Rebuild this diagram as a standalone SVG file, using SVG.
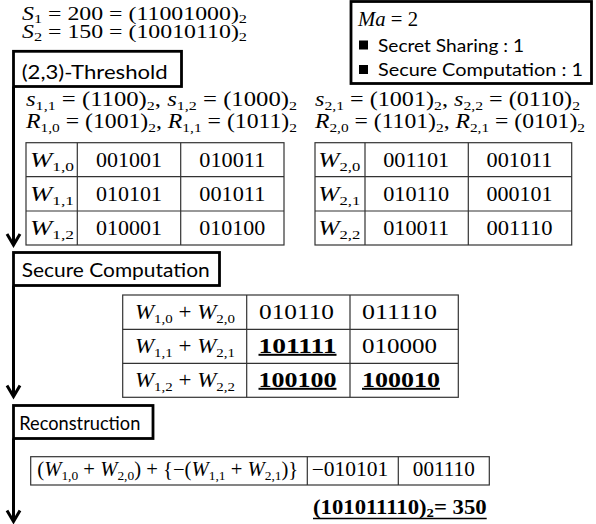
<svg xmlns="http://www.w3.org/2000/svg" width="596" height="524" viewBox="0 0 596 524">
  <style>
    .m { font-family: "Liberation Serif", "DejaVu Serif", serif; font-size: 20px; fill: #000; }
    .top { font-size: 19px; }
    .i { font-style: italic; }
    .sb { font-size: 13px; }
    .bd { font-weight: bold; }
    .b { font-weight: bold; text-decoration: underline; }
    .lbl { font-family: Lato, "Liberation Sans", sans-serif; font-size: 19.5px; fill: #000; }
    .sm { font-family: Lato, "Liberation Sans", sans-serif; font-size: 17px; fill: #000; }
    .box { fill: #fff; stroke: #000; stroke-width: 2.8; }
    .tbl { fill: #fff; stroke: #333; stroke-width: 1.2; }
    .grid { stroke: #333; stroke-width: 1.2; }
    .flow { stroke: #000; stroke-width: 3; fill: none; }
    .c { text-anchor: middle; }
  </style>
  <defs>
    <marker id="head" markerUnits="userSpaceOnUse" markerWidth="20" markerHeight="20" refX="0" refY="0" viewBox="-14 -10 16 20" orient="auto" overflow="visible">
      <path d="M-11,-6.5 L0,0 L-11,6.5" fill="none" stroke="#000" stroke-width="3"/>
    </marker>
  </defs>

  <!-- secrets -->
  <g id="secrets">
    <text class="m top" x="22" y="20" textLength="225" lengthAdjust="spacingAndGlyphs"><tspan class="i">S</tspan><tspan class="sb" dy="3">1</tspan><tspan dy="-3"> = 200 = (11001000)</tspan><tspan class="sb" dy="3">2</tspan></text>
    <text class="m top" x="22" y="37.5" textLength="225" lengthAdjust="spacingAndGlyphs"><tspan class="i">S</tspan><tspan class="sb" dy="3">2</tspan><tspan dy="-3"> = 150 = (10010110)</tspan><tspan class="sb" dy="3">2</tspan></text>
  </g>

  <!-- parameters -->
  <g id="params">
    <rect class="box" x="351" y="1.5" width="240.5" height="82"/>
    <text class="m" x="358" y="26" textLength="60" lengthAdjust="spacingAndGlyphs"><tspan class="i">Ma</tspan> = 2</text>
    <rect x="359" y="40.5" width="9" height="9" fill="#000"/>
    <text class="sm" x="378" y="52" textLength="146" lengthAdjust="spacingAndGlyphs">Secret Sharing : 1</text>
    <rect x="359" y="65" width="9" height="9" fill="#000"/>
    <text class="sm" x="378" y="75.5" textLength="205" lengthAdjust="spacingAndGlyphs">Secure Computation : 1</text>
  </g>

  <!-- step boxes -->
  <g id="threshold">
    <rect class="box" x="13.5" y="51.3" width="168" height="35.2"/>
    <text class="lbl" x="21.7" y="78.5" textLength="146" lengthAdjust="spacingAndGlyphs">(2,3)-Threshold</text>
  </g>
  <g id="secure-computation">
    <rect class="box" x="13.5" y="252.5" width="206" height="33"/>
    <text class="lbl" x="21.7" y="276.5" textLength="188" lengthAdjust="spacingAndGlyphs">Secure Computation</text>
  </g>
  <g id="reconstruction">
    <rect class="box" x="13.5" y="405.5" width="139.5" height="33"/>
    <text class="lbl" x="19.3" y="430" textLength="121" lengthAdjust="spacingAndGlyphs">Reconstruction</text>
  </g>

  <!-- shares of S1 -->
  <g id="shares-1">
    <text class="m" x="26" y="105.5" textLength="271" lengthAdjust="spacingAndGlyphs"><tspan class="i">s</tspan><tspan class="sb" dy="4">1,1</tspan><tspan dy="-4"> = (1100)</tspan><tspan class="sb" dy="4">2</tspan><tspan dy="-4">, </tspan><tspan class="i">s</tspan><tspan class="sb" dy="4">1,2</tspan><tspan dy="-4"> = (1000)</tspan><tspan class="sb" dy="4">2</tspan></text>
    <text class="m" x="26" y="128" textLength="271" lengthAdjust="spacingAndGlyphs"><tspan class="i">R</tspan><tspan class="sb" dy="4">1,0</tspan><tspan dy="-4"> = (1001)</tspan><tspan class="sb" dy="4">2</tspan><tspan dy="-4">, </tspan><tspan class="i">R</tspan><tspan class="sb" dy="4">1,1</tspan><tspan dy="-4"> = (1011)</tspan><tspan class="sb" dy="4">2</tspan></text>
    <rect class="tbl" x="26" y="142.7" width="258" height="102.3"/>
    <path class="grid" d="M77.3,142.7V245M180.7,142.7V245M26,176.7H284M26,211H284"/>
    <text class="m" x="30" y="166.5" textLength="44" lengthAdjust="spacingAndGlyphs"><tspan class="i">W</tspan><tspan class="sb" dy="4">1,0</tspan></text>
    <text class="m" x="30" y="200.5" textLength="44" lengthAdjust="spacingAndGlyphs"><tspan class="i">W</tspan><tspan class="sb" dy="4">1,1</tspan></text>
    <text class="m" x="30" y="234.5" textLength="44" lengthAdjust="spacingAndGlyphs"><tspan class="i">W</tspan><tspan class="sb" dy="4">1,2</tspan></text>
    <text class="m c" x="129" y="166.5" textLength="66" lengthAdjust="spacingAndGlyphs">001001</text>
    <text class="m c" x="232.3" y="166.5" textLength="66" lengthAdjust="spacingAndGlyphs">010011</text>
    <text class="m c" x="129" y="200.5" textLength="66" lengthAdjust="spacingAndGlyphs">010101</text>
    <text class="m c" x="232.3" y="200.5" textLength="66" lengthAdjust="spacingAndGlyphs">001011</text>
    <text class="m c" x="129" y="234.5" textLength="66" lengthAdjust="spacingAndGlyphs">010001</text>
    <text class="m c" x="232.3" y="234.5" textLength="66" lengthAdjust="spacingAndGlyphs">010100</text>
  </g>

  <!-- shares of S2 -->
  <g id="shares-2">
    <text class="m" x="315" y="105.5" textLength="265" lengthAdjust="spacingAndGlyphs"><tspan class="i">s</tspan><tspan class="sb" dy="4">2,1</tspan><tspan dy="-4"> = (1001)</tspan><tspan class="sb" dy="4">2</tspan><tspan dy="-4">, </tspan><tspan class="i">s</tspan><tspan class="sb" dy="4">2,2</tspan><tspan dy="-4"> = (0110)</tspan><tspan class="sb" dy="4">2</tspan></text>
    <text class="m" x="315" y="128" textLength="270" lengthAdjust="spacingAndGlyphs"><tspan class="i">R</tspan><tspan class="sb" dy="4">2,0</tspan><tspan dy="-4"> = (1101)</tspan><tspan class="sb" dy="4">2</tspan><tspan dy="-4">, </tspan><tspan class="i">R</tspan><tspan class="sb" dy="4">2,1</tspan><tspan dy="-4"> = (0101)</tspan><tspan class="sb" dy="4">2</tspan></text>
    <rect class="tbl" x="315" y="142.7" width="256.7" height="102.3"/>
    <path class="grid" d="M365,142.7V245M468.3,142.7V245M315,176.7H571.7M315,211H571.7"/>
    <text class="m" x="318.3" y="166.5" textLength="42" lengthAdjust="spacingAndGlyphs"><tspan class="i">W</tspan><tspan class="sb" dy="4">2,0</tspan></text>
    <text class="m" x="318.3" y="200.5" textLength="42" lengthAdjust="spacingAndGlyphs"><tspan class="i">W</tspan><tspan class="sb" dy="4">2,1</tspan></text>
    <text class="m" x="318.3" y="234.5" textLength="42" lengthAdjust="spacingAndGlyphs"><tspan class="i">W</tspan><tspan class="sb" dy="4">2,2</tspan></text>
    <text class="m c" x="416.2" y="166.5" textLength="66" lengthAdjust="spacingAndGlyphs">001101</text>
    <text class="m c" x="519.5" y="166.5" textLength="66" lengthAdjust="spacingAndGlyphs">001011</text>
    <text class="m c" x="416.2" y="200.5" textLength="66" lengthAdjust="spacingAndGlyphs">010110</text>
    <text class="m c" x="519.5" y="200.5" textLength="66" lengthAdjust="spacingAndGlyphs">000101</text>
    <text class="m c" x="416.2" y="234.5" textLength="66" lengthAdjust="spacingAndGlyphs">010011</text>
    <text class="m c" x="519.5" y="234.5" textLength="66" lengthAdjust="spacingAndGlyphs">001110</text>
  </g>

  <!-- summed shares -->
  <g id="sums">
    <rect class="tbl" x="122.7" y="295" width="335.6" height="102.3"/>
    <path class="grid" d="M246.7,295V397.3M350,295V397.3M122.7,329.3H458.3M122.7,363.3H458.3"/>
    <text class="m" x="135" y="318.7" textLength="100" lengthAdjust="spacingAndGlyphs"><tspan class="i">W</tspan><tspan class="sb" dy="4">1,0</tspan><tspan dy="-4"> + </tspan><tspan class="i">W</tspan><tspan class="sb" dy="4">2,0</tspan></text>
    <text class="m" x="135" y="352.8" textLength="100" lengthAdjust="spacingAndGlyphs"><tspan class="i">W</tspan><tspan class="sb" dy="4">1,1</tspan><tspan dy="-4"> + </tspan><tspan class="i">W</tspan><tspan class="sb" dy="4">2,1</tspan></text>
    <text class="m" x="135" y="386.8" textLength="100" lengthAdjust="spacingAndGlyphs"><tspan class="i">W</tspan><tspan class="sb" dy="4">1,2</tspan><tspan dy="-4"> + </tspan><tspan class="i">W</tspan><tspan class="sb" dy="4">2,2</tspan></text>
    <text class="m c" x="296.5" y="318.7" textLength="75" lengthAdjust="spacingAndGlyphs">010110</text>
    <text class="m c" x="399.5" y="318.7" textLength="75" lengthAdjust="spacingAndGlyphs">011110</text>
    <text class="m c b" x="297.5" y="352.8" textLength="78" lengthAdjust="spacingAndGlyphs">101111</text>
    <text class="m c" x="399.5" y="352.8" textLength="75" lengthAdjust="spacingAndGlyphs">010000</text>
    <text class="m c b" x="297.5" y="386.8" textLength="78" lengthAdjust="spacingAndGlyphs">100100</text>
    <text class="m c b" x="401" y="386.8" textLength="78" lengthAdjust="spacingAndGlyphs">100010</text>
  </g>

  <!-- reconstruction result -->
  <g id="result">
    <rect class="tbl" x="30.7" y="456.7" width="458.6" height="28.3"/>
    <path class="grid" d="M307.3,456.7V485M398.3,456.7V485"/>
    <text class="m" x="37.3" y="476" textLength="261" lengthAdjust="spacingAndGlyphs">(<tspan class="i">W</tspan><tspan class="sb" dy="4">1,0</tspan><tspan dy="-4"> + </tspan><tspan class="i">W</tspan><tspan class="sb" dy="4">2,0</tspan><tspan dy="-4">) + {−(</tspan><tspan class="i">W</tspan><tspan class="sb" dy="4">1,1</tspan><tspan dy="-4"> + </tspan><tspan class="i">W</tspan><tspan class="sb" dy="4">2,1</tspan><tspan dy="-4">)}</tspan></text>
    <text class="m" x="311.7" y="476" textLength="76.7" lengthAdjust="spacingAndGlyphs">−010101</text>
    <text class="m c" x="443.8" y="476" textLength="62" lengthAdjust="spacingAndGlyphs">001110</text>
    <text class="m bd" x="313" y="513.5" textLength="173.7" lengthAdjust="spacingAndGlyphs">(101011110)<tspan class="sb" dy="3">2</tspan><tspan dy="-3">= 350</tspan></text>
    <line x1="313" y1="518.5" x2="486.7" y2="518.5" stroke="#000" stroke-width="1.6"/>
  </g>

  <!-- flow arrows -->
  <g id="connectors">
    <line class="flow" x1="13.5" y1="86.5" x2="13.5" y2="245" marker-end="url(#head)"/>
    <line class="flow" x1="13.5" y1="285.5" x2="13.5" y2="396.5" marker-end="url(#head)"/>
    <line class="flow" x1="13.5" y1="438.5" x2="13.5" y2="521.5" marker-end="url(#head)"/>
  </g>
</svg>
